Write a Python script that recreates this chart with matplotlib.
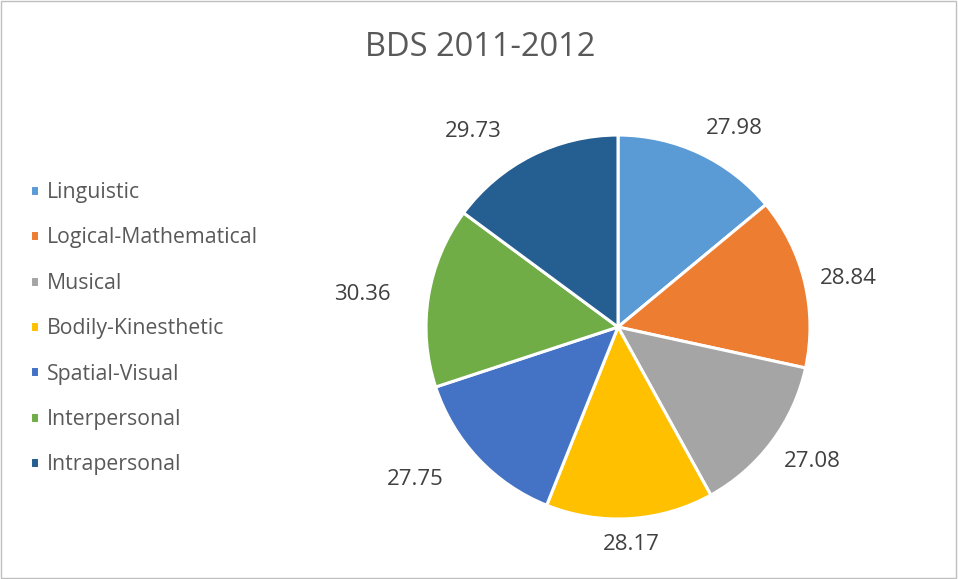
import numpy as np
import matplotlib
matplotlib.use('Agg')
import matplotlib.pyplot as plt
from matplotlib.patches import Rectangle

plt.rcParams['font.family'] = ['Open Sans', 'DejaVu Sans']

# data
categories = ['Linguistic', 'Logical-Mathematical', 'Musical', 'Bodily-Kinesthetic',
              'Spatial-Visual', 'Interpersonal', 'Intrapersonal']
values = [27.98, 28.84, 27.08, 28.17, 27.75, 30.36, 29.73]
colors = ['#5B9BD5', '#ED7D31', '#A5A5A5', '#FFC000', '#4472C4', '#70AD47', '#255E91']
title = 'BDS 2011-2012'

fig = plt.figure(figsize=(9.58, 5.79), dpi=100)
fig.patches.append(Rectangle((0.001, 0.002), 0.997, 0.996, transform=fig.transFigure,
                             fill=False, edgecolor='#BFBFBF', linewidth=1))

ax = fig.add_axes([0.4447, 0.1036, 0.4008, 0.6632])
wedges, _ = ax.pie(values, colors=colors, startangle=90, counterclock=False,
                   wedgeprops=dict(edgecolor='white', linewidth=2.2))
ax.set_xlim(-1, 1)
ax.set_ylim(-1, 1)
ax.set_aspect('equal')

# outside-end data labels, anchored by their nearest side
for w, v in zip(wedges, values):
    ang = np.deg2rad((w.theta1 + w.theta2) / 2)
    c, s = np.cos(ang), np.sin(ang)
    x, y = 1.08 * c, 1.08 * s
    if c > 0.1:
        ha = 'left'
    elif c < -0.1:
        ha = 'right'
        x -= 0.12
    else:
        ha = 'center'
    if s > 0.3:
        va = 'bottom'
    elif s < -0.3:
        va = 'top'
    else:
        va = 'center'
    ax.text(x, y, '%.2f' % v, ha=ha, va=va, fontsize=16, color='#404040')

fig.text(0.501, 0.918, title, ha='center', va='center', fontsize=23.5, color='#595959')

leg = fig.legend(wedges, categories, loc='upper left', bbox_to_anchor=(0.031, 0.686),
                 frameon=False, fontsize=15.3, handlelength=0.42, handleheight=0.42,
                 handletextpad=0.4, labelspacing=1.15, borderpad=0, borderaxespad=0,
                 labelcolor='#595959')

fig.savefig('out.png', dpi=100)
